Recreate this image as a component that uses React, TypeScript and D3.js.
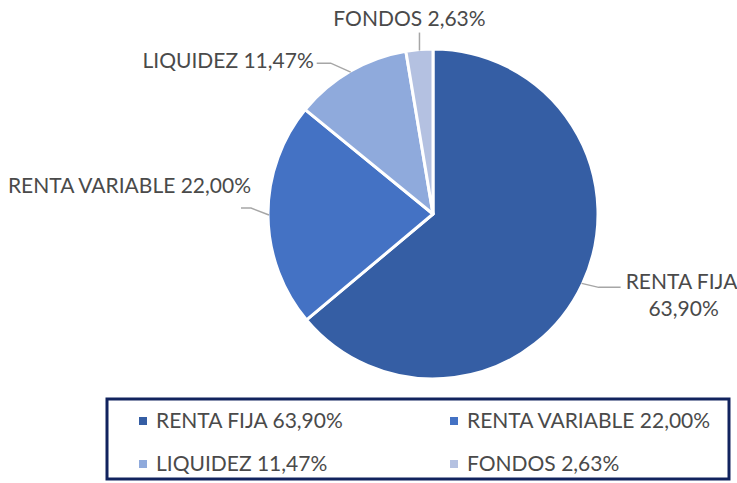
import React from "react";
import * as d3 from "d3";

const categories = ["RENTA FIJA", "RENTA VARIABLE", "LIQUIDEZ", "FONDOS"];
const values = [63.9, 22.0, 11.47, 2.63];
const valueLabels = ["63,90%", "22,00%", "11,47%", "2,63%"];
const colors = ["#355EA4", "#4472C4", "#8FAADC", "#B4C1E1"];

const W = 737;
const H = 483;
const cx = 433;
const cy = 214;
const R = 165;
const FONT = "Lato, 'Open Sans', sans-serif";
const FS = 21;
const TEXT = "#4A4A4A";

export default function App() {
  const pie = d3.pie<number>().sort(null).startAngle(0).endAngle(2 * Math.PI)(values);
  const arc = d3.arc<d3.PieArcDatum<number>>().innerRadius(0).outerRadius(R);
  const onArc = (a: number, r: number) => [Math.sin(a) * r, -Math.cos(a) * r];

  // label layout (elbow offsets relative to arc mid point, label anchor)
  const layout = [
    { elbow: [17, 4], end: [39, 4], text: [100, 6], anchor: "middle", twoLine: true },
    { elbow: [-18, -7], end: [-28, -7], text: [-18, -22], anchor: "end", twoLine: false },
    { elbow: [-20, -9], end: [-34, -9], text: [-37, -4], anchor: "end", twoLine: false },
    { elbow: [0, -18], end: [0, -18], text: [-10, -25], anchor: "middle", twoLine: false },
  ];

  const legendCols = [139, 450];
  const legendRows = [421, 464];

  return (
    <svg width={W} height={H} style={{ position: "absolute", left: 0, top: 0, background: "#fff" }}>
      <g transform={`translate(${cx},${cy})`}>
        {pie.map((d, i) => (
          <path key={i} d={arc(d) || ""} fill={colors[i]} stroke="#fff" strokeWidth={3} strokeLinejoin="round" />
        ))}
        {pie.map((d, i) => {
          const mid = (d.startAngle + d.endAngle) / 2;
          const [px, py] = onArc(mid, R - 1);
          const L = layout[i];
          const pts = [
            [px, py],
            [px + L.elbow[0], py + L.elbow[1]],
            [px + L.end[0], py + L.end[1]],
          ];
          const tx = px + L.text[0];
          const ty = py + L.text[1];
          return (
            <g key={"l" + i}>
              <polyline
                points={pts.map((p) => p.join(",")).join(" ")}
                fill="none"
                stroke="#A6A6A6"
                strokeWidth={1.5}
              />
              {L.twoLine ? (
                <g>
                  <text x={tx} y={ty} fontFamily={FONT} fontSize={FS} fill={TEXT} textAnchor="middle">
                    {categories[i]}
                  </text>
                  <text x={tx + 2} y={ty + 27} fontFamily={FONT} fontSize={FS} fill={TEXT} textAnchor="middle">
                    {valueLabels[i]}
                  </text>
                </g>
              ) : (
                <text x={tx} y={ty} fontFamily={FONT} fontSize={FS} fill={TEXT} textAnchor={L.anchor as any}>
                  {categories[i] + " " + valueLabels[i]}
                </text>
              )}
            </g>
          );
        })}
      </g>
      <rect x={107} y={399} width={622} height={80} fill="none" stroke="#11235E" strokeWidth={3} />
      {categories.map((c, i) => {
        const x = legendCols[i % 2];
        const y = legendRows[Math.floor(i / 2)];
        return (
          <g key={"lg" + i}>
            <rect x={x} y={y - 4} width={8} height={8} fill={colors[i]} />
            <text x={x + 17} y={y + 7} fontFamily={FONT} fontSize={FS} fill={TEXT}>
              {c + " " + valueLabels[i]}
            </text>
          </g>
        );
      })}
    </svg>
  );
}
